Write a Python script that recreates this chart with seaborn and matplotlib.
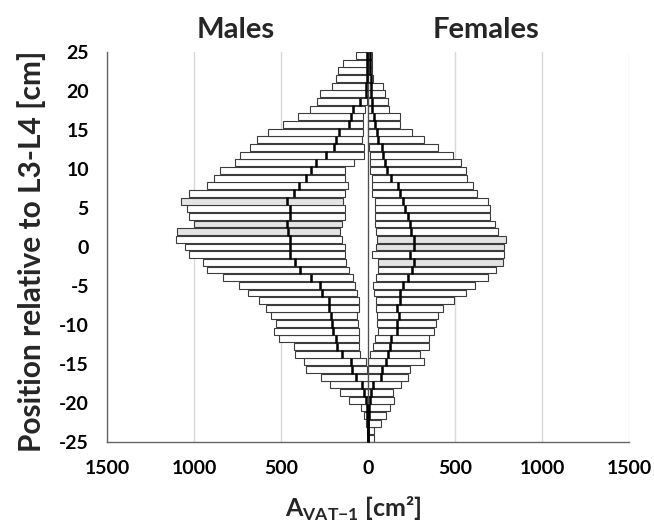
import numpy as np
import pandas as pd
import seaborn as sns
import matplotlib.pyplot as plt

sns.set_style("white")
plt.rcParams["font.family"] = ["Lato", "DejaVu Sans"]
plt.rcParams["font.weight"] = "bold"
plt.rcParams["mathtext.fontset"] = "custom"
plt.rcParams["mathtext.rm"] = "Lato:bold"

# 51 slices between +25 and -25 cm, listed top to bottom
slice_pos = np.linspace(25 - 25 / 51, -25 + 25 / 51, 51)

male_min = [0, 0, 0, 0, 0, 0, 5, 15, 29, 29, 29, 34, 23, 23, 80, 130, 130, 115,
            134, 144, 134, 134, 150, 159, 150, 134, 134, 128, 111, 86, 73, 61,
            52, 52, 61, 58, 54, 52, 52, 44, 10, 6, 0, 0, 0, 0, 0, 0, 0, 0, 0]
male_med = [4, 6, 8, 8, 10, 12, 48, 84, 100, 111, 167, 182, 197, 240, 297, 330,
            358, 395, 425, 464, 450, 446, 466, 460, 450, 450, 446, 421, 393, 326,
            278, 264, 222, 222, 211, 205, 199, 186, 176, 151, 98, 92, 67, 35, 25,
            12, 6, 4, 2, 1, 0]
male_max = [71, 144, 172, 182, 205, 274, 293, 335, 400, 488, 575, 638, 676, 734,
            762, 852, 887, 925, 1029, 1075, 1040, 1027, 1000, 1098, 1105, 1054,
            1029, 948, 923, 833, 741, 690, 626, 588, 556, 527, 540, 513, 425, 421,
            368, 354, 268, 220, 159, 111, 38, 23, 10, 4, 0]

female_min = [0, 0, 0, 0, 0, 0, 0, 0, 0, 0, 0, 0, 4, 10, 10, 13, 23, 23, 23, 38,
              42, 38, 42, 44, 54, 48, 23, 57, 57, 48, 29, 33, 44, 44, 52, 52, 57,
              38, 29, 10, 0, 0, 0, 0, 0, 0, 0, 0, 0, 0, 0]
female_med = [10, 10, 12, 15, 15, 18, 23, 23, 32, 40, 50, 59, 78, 86, 100, 112,
              135, 170, 185, 201, 215, 230, 240, 249, 262, 262, 240, 264, 255, 230,
              201, 182, 182, 169, 176, 169, 169, 134, 128, 115, 105, 80, 77, 29,
              19, 10, 5, 3, 2, 1, 0]
female_max = [25, 22, 25, 28, 86, 99, 115, 119, 182, 184, 250, 320, 402, 486, 536,
              562, 567, 603, 629, 691, 701, 701, 730, 746, 794, 782, 782, 777, 734,
              691, 615, 562, 495, 433, 400, 392, 380, 352, 352, 297, 320, 244, 228,
              188, 142, 148, 124, 106, 75, 37, 37]

# highlighted (grey) slices, index from the top
male_grey = [19, 22, 23]
female_grey = [24, 25, 27]

EDGE = "#3c3c3c"


def draw_side(ax, vmin, vmed, vmax, grey, sign):
    d = pd.DataFrame({"pos": slice_pos, "lo": vmin, "mid": vmed, "hi": vmax})
    d["face"] = ["#e4e4e4" if i in grey else "white" for i in range(len(d))]
    d = d.sort_values("pos")  # seaborn aggregates by ascending position
    for start, stop in [("lo", "mid"), ("mid", "hi")]:
        sns.barplot(x=sign * (d[stop] - d[start]).to_numpy(),
                    y=d["pos"].to_numpy(), orient="y", native_scale=True,
                    errorbar=None, width=0.9, saturation=1, color="white",
                    left=sign * d[start].to_numpy(), facecolor=list(d["face"]),
                    edgecolor=EDGE, linewidth=0.8, zorder=2, ax=ax)
    sns.scatterplot(x=sign * d["mid"].to_numpy(), y=d["pos"].to_numpy(),
                    marker="|", s=26, color="black", linewidth=1.8, zorder=4,
                    legend=False, ax=ax)


fig = plt.figure(figsize=(6.54, 5.23), dpi=100)
ax = fig.add_axes([0.1636, 0.1543, 0.7982, 0.7468])

draw_side(ax, male_min, male_med, male_max, male_grey, -1)
draw_side(ax, female_min, female_med, female_max, female_grey, 1)
ax.axvline(0, color="#505050", lw=0.9, zorder=3)

ax.set_xlim(-1500, 1500)
ax.set_ylim(-25, 25)
ax.set_xticks(range(-1500, 1501, 500))
ax.set_xticklabels([str(abs(v)) for v in range(-1500, 1501, 500)])
ax.set_yticks(range(-25, 26, 5))
ax.set_yticklabels([str(v) for v in range(-25, 26, 5)])
ax.grid(axis="x", color="#d9d9d9", lw=1)
ax.set_axisbelow(True)
for s in ["top", "right"]:
    ax.spines[s].set_visible(False)
for s in ["left", "bottom"]:
    ax.spines[s].set_color("#666666")
    ax.spines[s].set_linewidth(1)
ax.tick_params(direction="out", length=5, width=1, color="#666666",
               labelsize=14, labelcolor="black", pad=8)
ax.set_xlabel("")
ax.set_ylabel("")

fig.text(0.360, 0.943, "Males", ha="center", va="center", fontsize=21, weight="bold")
fig.text(0.743, 0.943, "Females", ha="center", va="center", fontsize=21, weight="bold")
fig.text(0.048, 0.52, "Position relative to L3-L4 [cm]", rotation=90, ha="center",
         va="center", fontsize=21.5, weight="bold")
fig.text(0.541, 0.0115, r"A$_{\mathrm{VAT{-}1}}$ [cm²]", ha="center", va="baseline",
         fontsize=18, weight="bold")

fig.savefig("out.png", dpi=100)
